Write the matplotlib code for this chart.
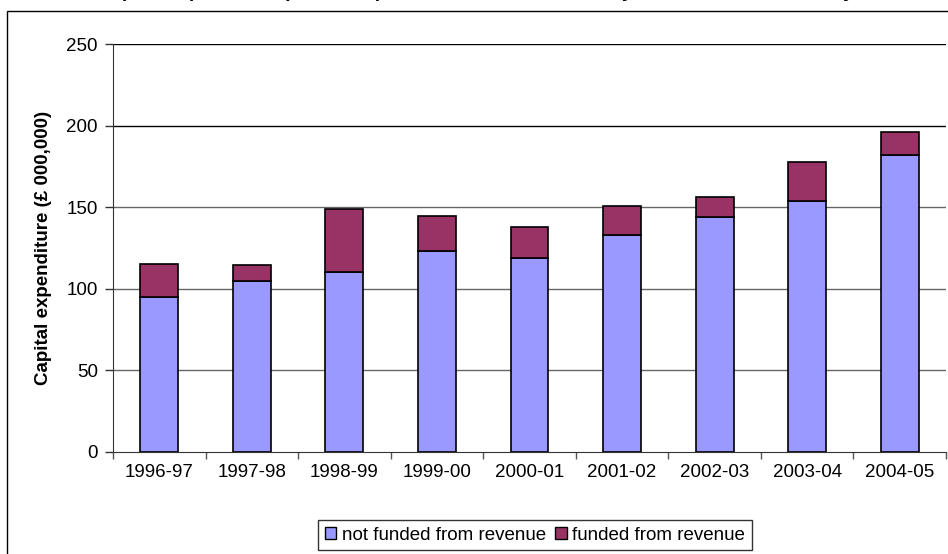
import matplotlib
matplotlib.use("Agg")
import matplotlib.pyplot as plt
from matplotlib.patches import Rectangle, Patch
import numpy as np

plt.rcParams['font.family'] = ['Liberation Sans', 'DejaVu Sans']

years = ["1996-97", "1997-98", "1998-99", "1999-00", "2000-01",
         "2001-02", "2002-03", "2003-04", "2004-05"]
not_funded = [95, 105, 110, 123, 119, 133, 144, 154, 182]
funded = [20, 9.5, 39, 21.5, 19, 17.5, 12.5, 23.5, 14]
yticks = [0, 50, 100, 150, 200, 250]

c_not = "#9999FF"
c_fund = "#993366"
FS = 13.5

W, H = 948, 554
fig = plt.figure(figsize=(W / 100, H / 100), dpi=100)
ax = fig.add_axes([113 / W, (H - 451.7) / H, 833 / W, 407.4 / H])

x = np.arange(len(years))
bw = 0.41
ax.bar(x, not_funded, bw, color=c_not, edgecolor="black", linewidth=1.2, zorder=3)
ax.bar(x, funded, bw, bottom=not_funded, color=c_fund, edgecolor="black", linewidth=1.2, zorder=3)

ax.set_xlim(-0.5, len(years) - 0.5)
ax.set_ylim(0, 250)
ax.set_yticks(yticks)
ax.set_yticklabels([str(v) for v in yticks], fontsize=FS)
for v in yticks[1:]:
    ax.axhline(v, color="black" if v >= 200 else "#666666", linewidth=1.0, zorder=1)

ax.set_xticks(x)
ax.set_xticklabels(years, fontsize=FS)
ax.tick_params(axis="x", length=0, pad=9)
ax.set_xticks(np.arange(len(years) + 1) - 0.5, minor=True)
ax.tick_params(axis="x", which="minor", length=5, color="#555555", width=1)
ax.tick_params(axis="y", length=6, color="#333333", width=1, pad=5)

for s in ["top", "right"]:
    ax.spines[s].set_visible(False)
ax.spines["left"].set_color("#333333")
ax.spines["bottom"].set_color("#333333")

ax.set_ylabel("Capital expenditure (£ 000,000)", fontsize=FS, fontweight="bold", labelpad=10)

fig.text(490 / W, 1 + 3 / H,
         "Capital expenditure (£ 000,000), funded and not funded by revenue and financial year",
         ha="center", va="baseline", fontsize=14, fontweight="bold")

fig.add_artist(Rectangle((7 / W, -0.1), 1.2, (H - 11) / H + 0.1, fill=False,
                         edgecolor="black", linewidth=1.0, transform=fig.transFigure))

handles = [Patch(facecolor=c_not, edgecolor="black", label="not funded from revenue"),
           Patch(facecolor=c_fund, edgecolor="black", label="funded from revenue")]
leg = fig.legend(handles=handles, loc="center", bbox_to_anchor=(535 / W, (H - 535) / H),
                 ncol=2, fontsize=FS, frameon=True, fancybox=False, edgecolor="black",
                 handlelength=0.6, handleheight=0.6, handletextpad=0.3, columnspacing=0.5,
                 borderpad=0.35, borderaxespad=0)
leg.get_frame().set_linewidth(1.0)

fig.savefig("out.png", dpi=100)
